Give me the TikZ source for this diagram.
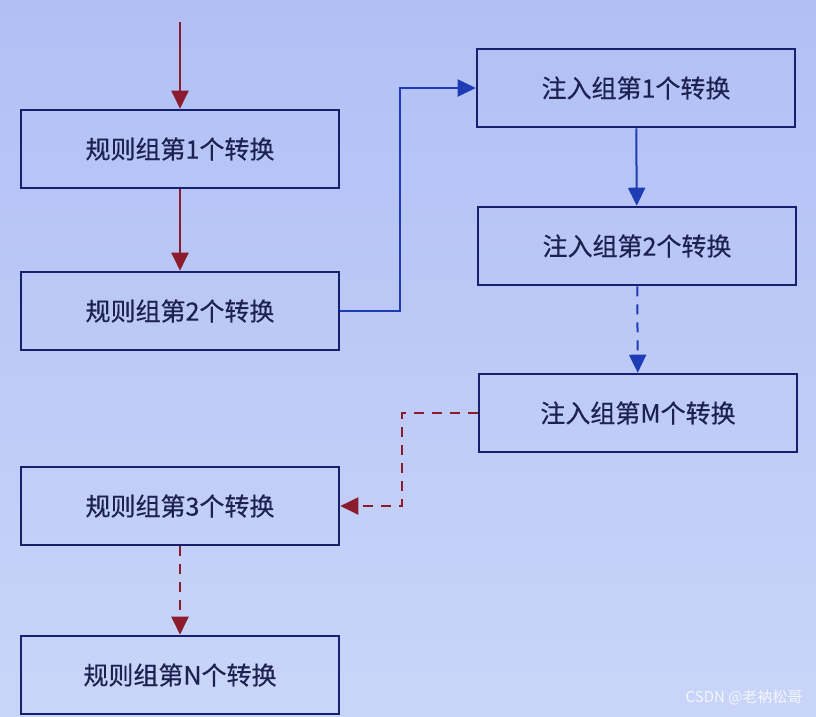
\documentclass[tikz,border=0pt]{standalone}
\usepackage{fontspec}
\newfontfamily\cjk{Noto Sans CJK SC}[FakeBold=0.4]
\newfontfamily\cjkmark{Noto Sans CJK SC}
\usetikzlibrary{arrows.meta,calc}
\definecolor{ruleRed}{HTML}{8A1C2E}
\definecolor{injBlue}{HTML}{1E3CB4}
\definecolor{boxNavy}{HTML}{16206E}
\definecolor{txtNavy}{HTML}{1C2150}
\definecolor{bgTop}{HTML}{B1BFF5}
\definecolor{bgBot}{HTML}{C9D5F8}

\begin{document}
\begin{tikzpicture}[x=1pt,y=-1pt,
  trans/.style={draw=boxNavy, line width=2.6pt, minimum width=318pt, minimum height=78pt,
    inner sep=0pt, text=txtNavy, font=\cjk\fontsize{25}{28}\selectfont},
  redarr/.style={ruleRed, line width=2pt, -{Triangle[length=18pt,width=17pt]}},
  bluearr/.style={injBlue, line width=2pt, -{Triangle[length=18pt,width=17pt]}},
  gap/.style={dash pattern=on 10pt off 8pt}]
  \shade[top color=bgTop, bottom color=bgBot] (0,0) rectangle (816,716);
  \useasboundingbox (0,0) rectangle (816,716);
  % rule group, left column
  \node[trans] (r1) at (180,149) {规则组第1个转换};
  \node[trans] (r2) at (180,311) {规则组第2个转换};
  \node[trans] (r3) at (180,506) {规则组第3个转换};
  \node[trans] (rN) at (180,675) {规则组第N个转换};
  % injection group, right column
  \node[trans] (i1) at (636,88) {注入组第1个转换};
  \node[trans] (i2) at (637,246) {注入组第2个转换};
  \node[trans] (iM) at (638,413) {注入组第M个转换};
  \coordinate (start) at (180,22);
  \draw[redarr] (start) -- (r1.north);
  \draw[redarr] (r1) -- (r2);
  \draw[bluearr] (r2.east) -- ++(60,0) |- (i1.west);
  \draw[bluearr] (i1) -- (i2);
  \draw[bluearr,gap] (i2) -- (iM);
  \draw[redarr,gap] (iM.west) -- ++(-76,0) |- (r3.east);
  \draw[redarr,gap] (r3) -- (rN);
  \node[font=\cjkmark\fontsize{15}{16}\selectfont, text=white!80!bgBot, anchor=east] (mark) at (806,697) {CSDN @老衲松哥};
\end{tikzpicture}
\end{document}
